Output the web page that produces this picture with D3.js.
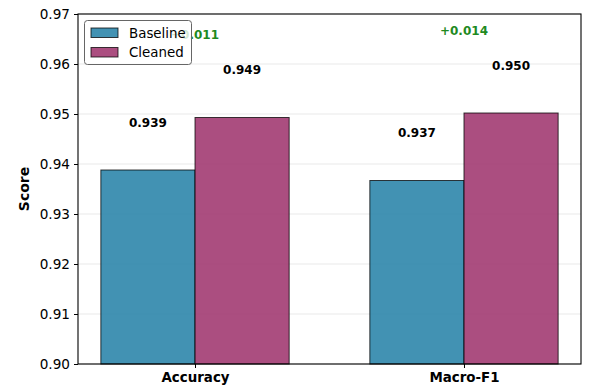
<!DOCTYPE html>
<html><head><meta charset="utf-8">
<script src="https://cdn.jsdelivr.net/npm/d3@7"></script>
<style>body{margin:0;background:#fff}svg{display:block;font-family:"DejaVu Sans",sans-serif}</style>
</head><body><svg id="c" width="596" height="392"></svg>
<script>
const categories = ["Accuracy", "Macro-F1"];
const seriesNames = ["Baseline", "Cleaned"];
const baselineValues = [0.9388, 0.9367];
const cleanedValues = [0.9493, 0.9502];
const valueLabels = [["0.939", "0.937"], ["0.949", "0.950"]];
const diffLabels = ["+0.011", "+0.014"];
const yTicks = [0.90, 0.91, 0.92, 0.93, 0.94, 0.95, 0.96, 0.97];
const colors = ["#2E86AB", "#A23B72"];

const svg = d3.select("#c");
const m = {l: 78, r: 581, t: 14, b: 364};
const x = d3.scaleLinear().domain([-0.435, 1.435]).range([m.l, m.r]);
const y = d3.scaleLinear().domain([0.90, 0.97]).range([m.b, m.t]);
const w = 0.35;

// grid
svg.append("g").selectAll("line").data(yTicks).join("line")
  .attr("x1", m.l).attr("x2", m.r)
  .attr("y1", d => y(d)).attr("y2", d => y(d))
  .attr("stroke", "#b0b0b0").attr("stroke-opacity", 0.35).attr("stroke-width", 0.8);

const series = [baselineValues, cleanedValues];
series.forEach((vals, s) => {
  const off = s === 0 ? -w / 2 : w / 2;
  svg.append("g").selectAll("rect").data(vals).join("rect")
    .attr("x", (d, i) => x(i + off - w / 2))
    .attr("width", (d, i) => x(i + off + w / 2) - x(i + off - w / 2))
    .attr("y", d => y(d))
    .attr("height", d => y(0.90) - y(d))
    .attr("fill", colors[s]).attr("fill-opacity", 0.9)
    .attr("stroke", "#000").attr("stroke-opacity", 0.75).attr("stroke-width", 1);
  svg.append("g").selectAll("text").data(vals).join("text")
    .attr("x", (d, i) => x(i + off))
    .attr("y", d => y(d + 0.0087))
    .attr("text-anchor", "middle")
    .attr("font-size", 12).attr("font-weight", "bold").attr("fill", "#000")
    .text((d, i) => valueLabels[s][i]);
});

// diff labels
svg.append("g").selectAll("text").data(categories).join("text")
  .attr("x", (d, i) => x(i))
  .attr("y", (d, i) => y(Math.max(baselineValues[i], cleanedValues[i]) + 0.0157))
  .attr("text-anchor", "middle")
  .attr("font-size", 12).attr("font-weight", "bold").attr("fill", "#1f8a1f")
  .text((d, i) => diffLabels[i]);

// axes
const yAxis = d3.axisLeft(y).tickValues(yTicks).tickFormat(d3.format(".2f")).tickSize(4).tickPadding(4);
const gy = svg.append("g").attr("transform", `translate(${m.l},0)`).call(yAxis);
gy.select(".domain").remove();
gy.selectAll("text").attr("font-size", 13.6).attr("fill", "#000").attr("font-family", "DejaVu Sans");
gy.selectAll("line").attr("stroke", "#000");

const xAxis = d3.axisBottom(x).tickValues([0, 1]).tickFormat(i => categories[i]).tickSize(4).tickPadding(4);
const gx = svg.append("g").attr("transform", `translate(0,${m.b})`).call(xAxis);
gx.select(".domain").remove();
gx.selectAll("text").attr("font-size", 13.4).attr("font-weight", "bold").attr("fill", "#000").attr("font-family", "DejaVu Sans");
gx.selectAll("line").attr("stroke", "#000");

// frame
svg.append("rect").attr("x", m.l).attr("y", m.t).attr("width", m.r - m.l).attr("height", m.b - m.t)
  .attr("fill", "none").attr("stroke", "#000").attr("stroke-width", 1.1);

svg.append("text").attr("transform", `translate(29,${(m.t + m.b) / 2}) rotate(-90)`)
  .attr("text-anchor", "middle").attr("font-size", 14).attr("font-weight", "bold").text("Score");

// legend
const lg = svg.append("g");
lg.append("rect").attr("x", 84.5).attr("y", 20.5).attr("width", 107).attr("height", 44).attr("rx", 3)
  .attr("fill", "#fff").attr("fill-opacity", 0.8).attr("stroke", "#666").attr("stroke-width", 1);
seriesNames.forEach((n, i) => {
  lg.append("rect").attr("x", 91).attr("y", 28 + i * 19.5).attr("width", 27).attr("height", 9.5)
    .attr("fill", colors[i]).attr("fill-opacity", 0.9).attr("stroke", "#000").attr("stroke-opacity", 0.75);
  lg.append("text").attr("x", 129).attr("y", 37.5 + i * 19.5).attr("font-size", 13.4).text(n);
});
</script></body></html>
